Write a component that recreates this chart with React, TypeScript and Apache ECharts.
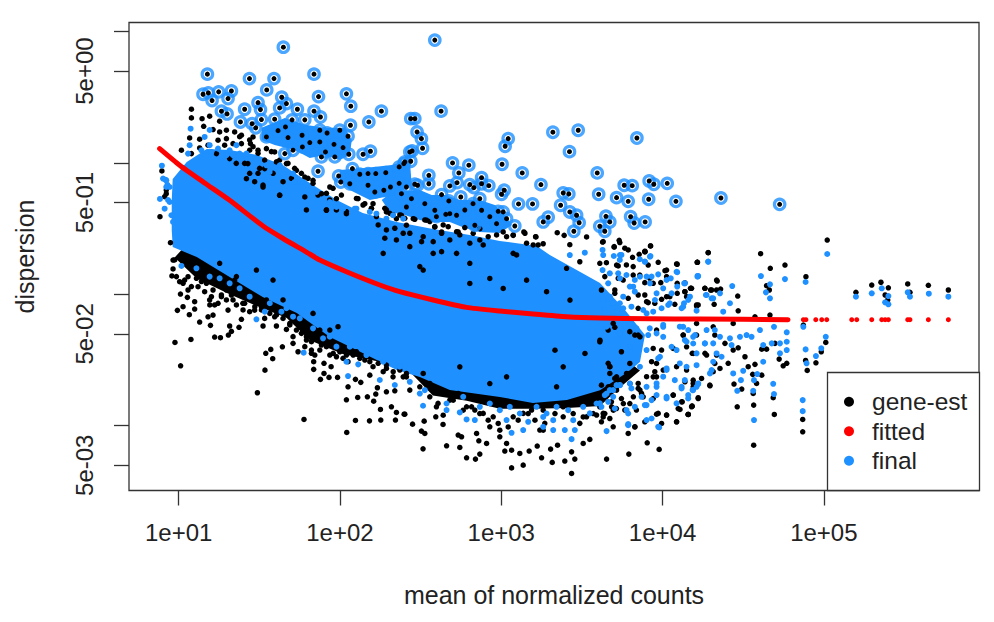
import React, { useEffect, useRef } from "react";
import * as echarts from "echarts";

// All values are log10(mean of normalized counts), log10(dispersion)
const xTicks = [1, 2, 3, 4, 5];
const xTickLabels = ["1e+01", "1e+02", "1e+03", "1e+04", "1e+05"];
const yTicks = [1, 0.699, 0, -0.301, -1, -1.301, -2, -2.301];
const yLabelTicks = [0.699, -0.301, -1.301, -2.301];
const yTickLabels = ["5e+00", "5e-01", "5e-02", "5e-03"];

// Envelopes of the regions where the points merge into a solid mass
const denseBody = [[.957,-.510],[.957,-.282],[.963,-.122],[1.050,.008],[1.174,.107],[1.316,.099],[1.484,.061],[1.645,-.015],[1.813,-.152],[1.980,-.282],[2.141,-.381],[2.352,-.449],[2.576,-.503],[2.805,-.549],[2.991,-.594],[3.220,-.632],[3.301,-.701],[3.612,-.914],[3.767,-1.120],[3.891,-1.310],[3.860,-1.515],[3.785,-1.592],[3.612,-1.730],[3.407,-1.804],[3.196,-1.827],[2.991,-1.781],[2.681,-1.728],[2.495,-1.629],[2.352,-1.576],[2.141,-1.447],[1.937,-1.325],[1.732,-1.142],[1.521,-1.020],[1.316,-.868],[1.112,-.716],[.963,-.640]];
const finalClusterA = [[2.259,-.282],[2.321,-.221],[2.495,-.206],[2.569,-.244],[2.650,-.244],[2.743,-.282],[2.867,-.282],[2.960,-.320],[3.022,-.396],[3.066,-.472],[2.991,-.533],[2.867,-.525],[2.774,-.495],[2.681,-.449],[2.557,-.449],[2.495,-.434],[2.402,-.396],[2.309,-.373]];
const finalClusterB = [[1.515,.267],[1.658,.343],[1.782,.290],[1.906,.267],[2.030,.267],[2.073,.175],[2.061,.061],[1.999,.023],[1.906,.061],[1.813,.038],[1.720,.099],[1.595,.137],[1.515,.175]];
const finalClusterC = [[1.999,-.053],[2.154,-.038],[2.321,-.015],[2.433,.023],[2.445,-.167],[2.340,-.244],[2.185,-.282],[2.061,-.206],[1.999,-.145]];
const geneBand = [[.975,-.72],[1.112,-.88],[1.316,-1.0],[1.459,-1.075],[1.670,-1.18],[1.813,-1.35],[2.017,-1.455],[2.290,-1.525],[2.433,-1.59],[2.576,-1.77],[2.786,-1.81],[2.991,-1.87],[3.196,-1.87],[3.407,-1.865],[3.612,-1.85],[3.736,-1.71],[3.860,-1.58],[3.612,-1.348],[2.371,-1.043],[1.130,-.510]];

const outliers = [[1.649,.881],[1.178,.676],[1.439,.642],[1.591,.642],[1.839,.676],[1.546,.556],[1.867,.505],[2.040,.526],[2.067,.432],[2.257,.394],[2.179,.312],[1.327,.548],[1.248,.541],[1.184,.533],[1.151,.523],[1.207,.475],[1.306,.490],[1.265,.394],[1.300,.373],[1.409,.409],[1.492,.459],[1.507,.406],[1.383,.312],[1.455,.299],[1.478,.267],[1.513,.330],[1.639,.500],[1.668,.452],[1.626,.419],[1.736,.409],[1.595,.333],[1.703,.328],[1.782,.328],[1.839,.394],[1.879,.350],[1.616,.246],[1.662,.274],[1.544,.198],[1.678,.193],[1.765,.211],[1.875,.249],[1.920,.228],[1.999,.249],[2.065,.287],[2.050,.203],[1.813,.155],[1.875,.160],[1.963,.142],[2.019,.117],[1.709,.097],[1.658,.071],[1.767,.122],[1.910,.084],[1.885,.046],[2.055,.066],[1.968,.046],[2.143,.066],[2.189,.089],[1.864,-.063],[2.077,-.043],[1.992,-.099],[2.005,-.145],[2.123,-.086],[2.174,-.081],[2.222,-.081],[2.284,-.074],[2.367,-.030],[2.402,.008],[2.433,.084],[2.061,-.158],[2.174,-.170],[2.216,-.221],[2.272,-.208],[2.313,-.183],[2.367,-.155],[2.412,-.183],[2.439,.337],
[2.588,.935],[2.627,.394],[2.464,.337],[2.478,.236],[2.505,.185],[2.512,.112],[2.447,.091],[2.439,.013],[2.396,-.005],[3.043,.185],[3.024,.127],[3.320,.234],[3.477,.249],[3.841,.190],[3.423,.086],[2.698,.000],[2.799,-.017],[2.737,-.076],[3.005,-.010],[3.130,-.076],[2.551,-.094],[2.551,-.158],[2.464,-.162],[2.481,-.170],[2.726,-.150],[2.681,-.175],[2.805,-.165],[2.830,-.188],[2.878,-.112],[2.878,-.158],[2.923,-.173],[3.246,-.165],[3.595,-.076],[3.604,-.238],[3.762,-.170],[3.812,-.173],[3.715,-.264],[3.787,-.292],[3.917,-.137],[3.946,-.162],[4.029,-.155],[3.914,-.276],[4.083,-.292],[3.384,-.228],[3.419,-.236],[3.368,-.322],[3.107,-.312],[3.194,-.312],[3.018,-.208],[3.002,-.238],[3.425,-.373],[3.467,-.398],[3.483,-.455],[3.291,-.413],[3.260,-.449],[3.450,-.520],[3.649,-.406],[3.673,-.449],[3.611,-.482],[3.642,-.520],[3.802,-.409],[3.824,-.457],[3.892,-.449],[3.084,-.480],[3.012,-.373],[2.981,-.368],[3.033,-.424],[2.971,-.462],[2.867,-.272],[2.825,-.310],[2.749,-.259],[2.675,-.289],[2.630,-.241],[2.681,-.386],[2.588,-.360],[2.443,-.272],[2.381,-.234],[2.526,-.310],[2.412,-.335],[2.878,-.360],[2.836,-.474],[2.723,-.398],[4.362,-.267],[4.726,-.315],[2.774,-.358],[2.656,-.391],[2.598,-.409],[2.929,-.409]];

const geneEst = [[.977,-1.366],[1.012,-1.544],[1.076,-1.343],[1.223,-1.325],[1.259,-1.330],[1.308,-1.310],[1.316,-1.241],[1.327,-1.282],[1.374,-1.251],[1.130,-1.211],[1.197,-1.236],[1.389,-1.190],[.992,-1.122],[1.027,-1.094],[1.066,-1.155],[1.099,-1.112],[1.099,-1.056],[1.054,-1.023],[1.011,-.998],[.958,-.860],[.965,-.807],[.949,-.607],[1.540,-1.449],[1.571,-1.419],[1.583,-1.490],[1.535,-1.577],[1.488,-1.749],[1.643,-1.399],[1.777,-1.952],[2.042,-2.051],[2.096,-1.960],[2.183,-1.963],[2.253,-1.957],[2.344,-1.957],[2.040,-1.803],[2.110,-1.785],[2.170,-1.780],[2.209,-1.813],[2.222,-1.759],[2.251,-1.876],[2.319,-1.856],[2.350,-1.899],[2.402,-1.912],[2.288,-1.742],[2.340,-1.734],[2.232,-1.711],[2.050,-1.704],[1.837,-1.571],[1.879,-1.647],[1.932,-1.632],[1.985,-1.632],[1.901,-1.602],[1.945,-1.551],[1.901,-1.525],[1.837,-1.513],[2.129,-1.670],[2.096,-1.647],[2.185,-1.615],
[.965,-.739],[1.006,-.904],[1.058,-.866],[1.058,-.967],[1.120,-.840],[1.120,-.942],[1.172,-.916],[1.172,-.840],[1.203,-1.018],[1.193,-1.081],[1.213,-1.158],[1.182,-1.171],[1.244,-1.068],[1.265,-1.005],[1.296,-.967],[1.306,-1.120],[1.337,-1.043],[1.347,-.891],[1.398,-1.068],[1.409,-1.005],[1.451,-1.043],[1.471,-1.120],[1.513,-1.094],[1.544,-1.043],[1.533,-1.183],[1.595,-1.171],[1.523,-1.241],[1.606,-1.241],[1.668,-1.267],[1.689,-1.221],[1.709,-1.373],[1.740,-1.437],[1.771,-1.272],[1.792,-1.348],[1.823,-1.424],[1.844,-1.462],[1.875,-1.272],[1.916,-1.335],[1.978,-1.475],[2.019,-1.424],[2.050,-1.513],[2.102,-1.437],[2.154,-1.500],[2.205,-1.551],[2.288,-1.564],[2.329,-1.628],[2.412,-1.628],
[.896,-.061],[.884,-.409],[.923,-.206],[.913,-.257],[.923,-.234],
[1.079,.409],[1.079,.343],[1.145,.337],[1.192,.356],[1.155,.279],[1.213,.254],[1.254,.318],[1.254,.236],[1.296,.249],[1.347,.236],[1.389,.211],[1.068,.190],[1.130,.181],[1.017,.097],[1.130,.114],[1.182,.135],[1.244,.173],[1.296,.185],[1.285,.135],[1.337,.147],[1.389,.147],[1.445,.147],[1.461,.198],[1.440,.097],[1.492,.097],[1.544,.109],[1.595,.084],[1.429,-.005],[1.533,-.043],[1.606,.008],[1.668,-.005],[1.730,-.056],[1.782,-.107],[1.833,-.132],[1.885,-.234],[1.937,-.183],[1.978,-.272],[2.040,-.386],[2.112,-.272],[2.154,-.310],[2.205,-.310],[2.288,-.373],[2.350,-.424],[2.412,-.474],[1.916,-.360],[1.782,-.259],[1.626,-.246],[1.523,-.183],[1.420,-.120],[1.316,.033],[1.234,.071],[1.079,.071],
[3.140,-.525],[3.215,-.563],[3.347,-.531],[3.390,-.551],[3.529,-.563],[3.628,-.602],[3.731,-.589],[3.700,-.640],[3.926,-.632],[3.891,-.672],[3.425,-.622],[3.260,-.615],[3.074,-.551],[3.012,-.525],[2.867,-.500],[2.733,-.525],[2.630,-.525],[2.537,-.436],[2.454,-.424],[2.381,-.398],[2.588,-.487],
[4.087,-.769],[4.217,-.756],[4.015,-.820],[3.911,-.777],[3.891,-.676],[3.715,-.777],[3.611,-.764],[3.487,-.752],[3.405,-.802],[3.818,-.853],[3.942,-.916],[4.139,-.980],[4.176,-.954],[4.025,-1.018],[3.901,-1.056],[4.221,-1.081],[3.860,-1.323],[3.963,-1.272],[3.694,-1.221],[3.611,-1.361],[3.663,-1.525],[3.798,-1.602],[3.942,-1.628],[4.087,-1.551],[4.190,-1.678],[4.066,-1.767],[3.973,-1.906],[4.025,-1.919],[4.087,-1.970],[4.159,-1.914],[4.184,-1.851],[3.880,-1.780],[3.715,-1.628],[3.611,-1.856],[3.684,-1.856],[3.829,-2.008],[3.787,-2.059],[3.905,-2.130],[3.979,-2.180],[3.791,-2.216],[3.653,-2.254],[3.436,-2.363],[3.136,-2.300],[3.064,-2.321],[3.316,-2.279],[3.394,-2.269],[3.456,-2.254],[3.250,-2.244],[2.785,-2.244],[2.840,-2.254],[2.867,-2.216],[2.515,-2.176],[2.661,-2.153],[2.743,-2.165],[2.450,-1.988],[2.522,-1.965],[2.505,-2.041],[2.526,-2.059],[2.639,-1.990],[2.594,-1.932],[2.398,-1.912],[2.733,-2.071],[2.754,-2.084],[2.861,-2.115],[2.909,-2.135],[3.022,-2.193],[3.064,-2.186],[3.115,-2.211],[3.173,-2.193],[3.223,-2.155],[3.306,-2.178],[3.349,-2.148],[3.436,-2.199],[3.508,-2.135],[3.549,-2.104],[2.557,-1.678],[2.608,-1.830],[2.681,-1.805],[2.733,-1.754],[2.785,-1.856],[2.836,-1.881],[2.888,-1.906],[2.950,-1.932],[2.929,-2.008],[2.847,-2.059],[2.991,-2.084],[3.033,-2.135],[3.074,-1.932],[3.136,-1.906],[3.188,-1.881],[3.239,-2.033],[3.270,-1.982],[3.343,-1.704],[3.384,-1.932],[3.487,-1.982],[3.529,-1.932],[3.591,-1.919],[3.632,-1.906],[3.673,-1.551],[3.777,-1.602],[3.849,-1.678],[4.004,-1.576],
[5.021,-.587],[4.283,-.683],[4.608,-.691],[4.215,-.756],[4.668,-.802],[4.759,-.777],[4.889,-.866],[4.339,-.899],[5.199,-.985],[5.297,-.929],[5.354,-.908],[5.400,-.950],[5.520,-.921],[5.648,-.931],[5.772,-.967],[5.534,-.985],[5.380,-1.005],[5.396,-1.043],[4.263,-.954],[4.304,-.967],[4.360,-.960],[4.180,-.954],[4.139,-.912],[4.466,-1.013],[4.645,-.934],[4.662,-.967],[4.211,-1.081],[4.320,-1.076],[4.469,-1.125],[4.149,-1.018],[4.873,-1.234],[5.012,-1.366],[4.984,-1.437],[4.951,-1.521],[4.887,-1.503],[4.897,-1.579],[4.869,-1.952],[4.869,-2.046],[4.565,-2.148],[4.693,-1.914],[4.565,-1.843],[4.463,-1.856],[4.686,-1.787],[4.562,-1.754],[4.294,-1.696],[4.221,-1.787],[4.182,-1.851],[4.159,-1.914],[4.108,-1.876],[4.122,-1.818],[4.443,-1.683],[4.583,-1.678],[4.491,-1.721],[4.615,-1.615],[4.559,-1.609],[4.770,-1.525],[4.748,-1.544],[4.723,-1.493],[4.615,-1.417],[4.645,-1.417],[4.697,-1.373],[4.469,-1.407],[4.531,-1.551],[4.573,-1.533],[4.511,-1.475],[4.438,-1.424],[4.356,-1.564],[4.407,-1.525],[4.314,-1.589],[4.242,-1.640],[4.139,-1.666],[4.190,-1.653],[4.184,-1.449],[4.263,-1.449],[4.335,-1.462],[4.387,-1.373],[4.314,-1.247],[4.211,-1.221],[4.438,-1.221],[4.573,-1.171],[4.666,-1.158],[4.149,-1.399],[4.149,-1.576],
[2.195,-.345],[2.226,-.408],[2.278,-.345],[2.309,-.383],[2.371,-.396],[2.402,-.421],[2.464,-.429],[2.526,-.434],[2.557,-.446],[2.588,-.485],[2.640,-.472],[2.671,-.485],[2.723,-.523],[2.743,-.548],[2.774,-.492],[2.826,-.535],[2.867,-.586],[2.919,-.561],[2.971,-.548],[3.033,-.561],[3.074,-.548],[3.147,-.535],[3.213,-.561],[2.805,-.611],[2.888,-.624],[2.681,-.586],[2.630,-.535],[2.516,-.561],[2.433,-.535],[2.392,-.535],[3.074,-.688],[3.157,-.611],[3.198,-.624],[3.229,-.624],[3.095,-.700],
[2.288,-.510],[2.278,-.573],[2.340,-.497],[2.237,-.472],[2.433,-.637],[2.506,-.599],[2.578,-.599],[2.578,-.688],[2.630,-.675],[2.723,-.688],[2.805,-.764],[2.495,-.789],[2.268,-.688],[2.350,-.586],
[1.626,.022],[1.678,-.003],[1.719,-.041],[1.761,-.079],[1.802,-.117],[1.833,-.155],[1.864,-.244],[1.916,-.231],[1.957,-.193],[2.009,-.244],[2.102,-.270],[2.143,-.320],[2.195,-.346],[2.288,-.358],[2.329,-.396],[1.936,-.282],[2.040,-.371],[1.792,-.358],[1.916,-.358],[1.978,-.358],[1.626,-.244],[1.523,-.168],[1.585,-.079],[1.471,-.143],[1.647,-.143],[1.699,-.117],[1.440,-.079],[1.502,-.041],[1.409,-.003],[1.357,-.003],[1.440,.175],[1.461,.124],[1.378,.200],[1.575,.086],[1.492,.073],[1.533,.022],[1.492,-.079],
[3.632,-.599],[3.700,-.637],[3.735,-.606],[3.766,-.649],[3.787,-.662],[3.814,-.718],[3.855,-.695],[3.890,-.675],[3.925,-.632],[3.652,-.759],[3.725,-.784],[3.776,-.776],[3.818,-.789],[3.973,-.756],[4.091,-.771],[4.215,-.756],[4.283,-.682],[4.025,-.815],[4.025,-.865],[4.091,-.916],[3.989,-.911],[3.890,-.911],[3.921,-.878],[3.725,-.878],[3.756,-.891],[3.859,-.853],[3.621,-.967],[3.704,-.967],[3.704,-.992],[3.787,-1.030],[3.849,-1.005],[3.890,-1.005],[3.911,-1.063],[3.952,-1.068],[3.994,-1.038],[4.045,-1.018],[4.091,-.992],[4.138,-.980],[4.173,-.954],[4.262,-.954],[4.298,-.967],[4.335,-.891],[4.076,-1.076],[4.211,-1.089],[3.849,-1.106],[4.335,-.967],[3.642,-.865],[3.704,-1.251],[3.797,-1.284],[3.663,-1.272],[3.828,-1.310],[4.128,-1.310],[4.211,-1.310],[4.324,-1.310],
[3.849,-1.310],[3.942,-1.412],[3.932,-1.513],[3.963,-1.526],[3.901,-1.627],[3.952,-1.589],[3.994,-1.424],[4.066,-1.412],[4.128,-1.310],[4.190,-1.450],[4.273,-1.462],[4.324,-1.526],[4.293,-1.691],[4.221,-1.793],[4.190,-1.704],[4.118,-1.818],[4.066,-1.767],[4.097,-1.869],[4.180,-1.856],[4.159,-1.914],[4.025,-1.919],[3.963,-1.912],[3.994,-1.983],[3.890,-1.970],[4.087,-1.970],[3.838,-1.881],[3.766,-1.881],[3.714,-1.869],[3.642,-1.907],[3.621,-1.970],[3.673,-1.945],[3.828,-2.008],[3.694,-2.008],[3.797,-1.831],[3.745,-1.793],[3.683,-1.818],[3.849,-1.716],[3.870,-1.754],[3.942,-1.793],[3.673,-1.602],[3.663,-1.704],[3.704,-1.640],[3.797,-1.526],[3.745,-1.437],[3.673,-1.551],[3.621,-1.691],
[2.516,-.815],[2.805,-.917],[2.929,-.879],[3.157,-.892],[3.012,-.955],[3.333,-1.425],[3.612,-1.349],[3.519,-1.450],[3.384,-1.552],[3.033,-1.628],[2.929,-1.679],[2.516,-1.602],[2.743,-1.552],[3.281,-.980],[3.426,-1.044],
[1.482,-.815],[1.585,-.891],[1.647,-1.043],[1.833,-1.145],[1.937,-1.272],[1.988,-1.246],[1.254,-.764],[1.358,-.865]];

const geneEstLowerEdge = [[.975,-.738],[.986,-.865],[1.037,-.891],[1.027,-.916],[1.079,-.941],[1.110,-.878],[1.141,-.903],[1.161,-.980],[1.213,-.967],[1.192,-1.043],[1.223,-1.081],[1.265,-1.018],[1.296,-1.043],[1.327,-1.005],[1.358,-1.081],[1.399,-1.119],[1.440,-1.132],[1.409,-1.068],[1.472,-1.094],[1.513,-1.119],[1.565,-1.145],[1.606,-1.157],[1.647,-1.183],[1.689,-1.233],[1.730,-1.272],[1.761,-1.297],[1.792,-1.322],[1.823,-1.360],[1.782,-1.398],[1.823,-1.449],[1.875,-1.424],[1.916,-1.398],[1.958,-1.449],[1.999,-1.437],[2.040,-1.462],[2.082,-1.462],[2.123,-1.487],[2.185,-1.513],[2.237,-1.525],[2.288,-1.538],[2.330,-1.589],[2.371,-1.576],[2.412,-1.602],[2.268,-1.589],[2.019,-1.487],[1.937,-1.462],[1.885,-1.386],[1.709,-1.322],
[2.392,-1.628],[2.433,-1.729],[2.495,-1.704],[2.557,-1.780],[2.598,-1.856],[2.640,-1.920],[2.702,-1.806],[2.764,-1.882],[2.816,-1.856],[2.867,-1.907],[2.919,-1.958],[2.981,-1.983],[3.043,-2.009],[3.105,-1.958],[3.167,-1.907],[3.209,-1.958],[3.260,-1.882],[3.333,-1.907],[3.384,-1.856],[3.446,-1.907],[3.508,-1.933],[3.570,-1.907],[3.632,-1.933],[3.695,-1.882],[3.757,-1.831],[3.715,-1.729],[3.798,-1.679],[3.819,-1.780],[3.860,-1.729],[3.963,-1.628],[3.260,-2.034],[2.991,-2.034]];

const finalEst = [[.896,-.021],[.884,-.274],[.919,-.129],[.930,-.167],[.934,-.282],[1.074,.261],[1.192,.251],[1.161,.198],[1.068,.135],[1.203,.084],[1.296,.059],[1.378,.071],[1.337,.059],[1.471,.008],[1.564,-.068],[1.719,-.145],[1.978,-.335],[2.102,-.348],[2.226,-.386],[2.329,-.398],[.923,-.132],[.944,-.183],[.965,-.449],[.955,-.398],
[4.139,-.916],[4.087,-.828],[4.221,-.861],[4.025,-.891],[3.922,-.916],[3.860,-.866],[3.736,-.701],[3.632,-.701],[3.518,-.683],[3.425,-.701],[3.891,-.752],[3.922,-.714],[3.818,-.942],[3.736,-.878],[3.953,-1.043],[4.056,-.992],[4.128,-1.094],[4.035,-1.081],[3.901,-1.145],[3.756,-1.018],[3.694,-1.068],[4.004,-1.247],[4.128,-1.247],[4.190,-1.323],[4.087,-1.424],[3.984,-1.475],[3.901,-1.424],[3.798,-1.399],[4.025,-1.576],[4.149,-1.551],[3.963,-1.704],[4.118,-1.704],[4.190,-1.729],[4.025,-1.792],[4.087,-1.830],[3.901,-1.843],[3.736,-1.691],[3.673,-1.729],[3.777,-1.881],[3.787,-1.988],[3.653,-2.041],[3.979,-2.013],[3.901,-1.957],[3.456,-2.033],[3.394,-2.033],[3.436,-2.102],[3.136,-2.033],[3.064,-2.054],[3.322,-2.033],[3.260,-2.008],[3.167,-1.970],[3.033,-1.957],[2.836,-1.957],[2.785,-1.952],[2.743,-1.899],[2.661,-1.881],[2.515,-1.848],[3.549,-1.906],[3.611,-1.830],[3.694,-1.780],[3.860,-1.551],
[5.021,-.693],[4.283,-.752],[4.217,-.866],[4.610,-.861],[4.759,-.884],[4.887,-.906],[5.199,-1.018],[5.297,-.992],[5.359,-.954],[5.400,-1.013],[5.380,-1.061],[5.400,-1.076],[5.520,-.985],[5.534,-1.018],[5.651,-.995],[5.772,-1.018],[4.432,-.937],[4.666,-.924],[4.666,-1.030],[4.641,-.985],[4.269,-1.005],[4.304,-1.030],[4.170,-1.018],[4.133,-1.068],[4.356,-.992],[4.418,-1.068],[4.376,-1.132],[4.873,-1.247],[4.691,-1.247],[4.604,-1.272],[4.770,-1.289],[5.012,-1.323],[4.984,-1.411],[4.951,-1.470],[4.887,-1.419],[4.893,-1.525],[4.770,-1.361],[4.770,-1.424],[4.728,-1.373],[4.728,-1.449],[4.677,-1.373],[4.624,-1.386],[4.624,-1.513],[4.552,-1.323],[4.521,-1.310],[4.480,-1.323],[4.418,-1.335],[4.428,-1.386],[4.356,-1.323],[4.314,-1.373],[4.263,-1.373],[4.201,-1.310],[4.149,-1.361],[4.211,-1.449],[4.314,-1.513],[4.366,-1.475],[4.500,-1.582],[4.438,-1.602],[4.587,-1.607],[4.567,-1.653],[4.486,-1.653],[4.686,-1.681],[4.691,-1.759],[4.463,-1.734],[4.562,-1.734],[4.567,-1.957],[4.869,-1.805],[4.869,-1.889],[4.294,-1.602],[4.221,-1.683],[4.186,-1.729],[4.159,-1.792],
[3.628,-.662],[3.698,-.708],[3.745,-.700],[3.735,-.738],[3.859,-.733],[3.925,-.708],[3.890,-.751],[4.283,-.751],[4.217,-.860],[4.091,-.832],[4.051,-.878],[3.973,-.848],[3.932,-.865],[3.901,-.865],[3.828,-.891],[3.673,-.840],[3.725,-.840],[3.776,-.853],[3.628,-.815],[3.663,-.916],[3.797,-.941],[3.828,-.980],[4.004,-.954],[3.963,-.992],[4.091,-.941],[4.134,-.916],[4.159,-1.043],[4.118,-1.106],[4.045,-1.068],[3.994,-1.106],[3.942,-1.132],[3.880,-1.119],[3.807,-1.094],[3.735,-1.068],[3.673,-1.018],[3.632,-1.043],[4.273,-1.005],[4.314,-1.030],[4.211,-1.124],[3.642,-1.119],[3.714,-1.132],[3.756,-1.106],[3.652,-1.246],[3.735,-1.297],[3.838,-1.259],[3.921,-1.259],[4.004,-1.233],[4.107,-1.246],[4.159,-1.272],[4.273,-1.272],[4.324,-1.272],[3.797,-1.221],[3.963,-1.297],
[3.911,-1.310],[4.004,-1.323],[4.056,-1.399],[4.138,-1.348],[4.190,-1.374],[4.262,-1.374],[4.335,-1.450],[4.107,-1.526],[4.025,-1.564],[3.973,-1.488],[4.211,-1.539],[4.304,-1.577],[4.211,-1.704],[4.159,-1.767],[4.118,-1.716],[4.025,-1.780],[3.963,-1.767],[3.932,-1.805],[3.890,-1.843],[3.870,-1.780],[3.807,-1.716],[3.735,-1.691],[3.694,-1.729],[3.642,-1.767],[3.663,-1.818],[3.704,-1.869],[3.787,-1.907],[3.828,-1.856],[3.621,-1.856],[3.932,-1.945],[3.973,-2.008],[3.787,-1.996],[4.076,-1.653],[4.138,-1.653],[4.221,-1.678],[4.004,-1.627],[3.963,-1.678],[3.901,-1.704],
[2.433,-1.666],[2.495,-1.755],[2.526,-1.729],[2.661,-1.831],[2.764,-1.780],[2.867,-1.856],[2.929,-1.831],[2.991,-1.882],[3.053,-1.856],[3.115,-1.907],[3.219,-1.856],[3.281,-1.907],[3.343,-1.856],[3.415,-1.882],[3.446,-1.958],[3.508,-1.856],[3.591,-1.831],[3.653,-1.755],[3.715,-1.691],[3.798,-1.679],[3.260,-1.933],[3.322,-1.958]];

const finalEdge = [[1.017,-.784],[1.254,-.878],[1.378,-.954],[1.482,-1.190],[1.534,-1.132],[1.637,-1.132],[1.709,-1.170],[1.775,-1.444],[1.895,-1.335],[1.978,-1.398],[2.040,-1.513],[2.113,-1.533],[2.050,-1.622],[2.247,-1.652],[2.340,-1.690],[1.110,-.802],[1.192,-.865],[1.316,-.916],[1.440,-1.018],[1.565,-1.068],[1.668,-1.106],[1.751,-1.183],[1.833,-1.259],[1.937,-1.322],[2.061,-1.398],[2.164,-1.462],[2.268,-1.513],[2.371,-1.551],
[1.058,.071],[1.141,.096],[1.192,.135],[1.244,.109],[1.316,.096],[1.358,.135],[1.420,.071],[1.482,.033],[1.544,-.018],[1.627,-.018],[1.709,-.081],[1.771,-.145],[1.854,-.221],[1.937,-.297],[2.019,-.348],[2.092,-.348],[2.185,-.373],[2.288,-.424],[2.392,-.424],[.903,-.119],[.923,-.183],[.944,-.297],[.913,-.348]];

const fittedCurve = [[.882,.109],[1.006,-.017],[1.161,-.152],[1.316,-.284],[1.523,-.480],[1.647,-.575],[1.792,-.678],[1.875,-.739],[2.040,-.828],[2.247,-.929],[2.371,-.980],[2.577,-1.043],[2.785,-1.099],[2.991,-1.127],[3.198,-1.150],[3.405,-1.171],[3.612,-1.181],[3.922,-1.186],[4.232,-1.188],[4.778,-1.193]];
const fittedDotsMean = [4.873,4.889,4.950,4.987,5.018,5.173,5.204,5.297,5.359,5.380,5.400,5.520,5.534,5.648,5.772];
const fittedPlateau = -1.193;

const BLUE = "#1e90ff";
const FONT = "'Liberation Sans', Arial, sans-serif";
const TEXT = "#222222";
const AXIS = "#333333";

export default function App() {
  const ref = useRef<HTMLDivElement>(null);
  useEffect(() => {
    const chart = echarts.init(ref.current!, undefined, { renderer: "svg" });
    const scatter = (name: string, data: number[][], size: number, color: string, z: number) => ({
      name, type: "scatter", data, symbolSize: size, z, silent: true,
      itemStyle: { color, opacity: 1 },
    });
    const mass = (name: string, data: number[][], color: string) => ({
      name, type: "custom", z: 2, silent: true, data,
      itemStyle: { color },
      encode: { x: 0, y: 1 },
      renderItem: (p: any, api: any) => p.dataIndex === 0
        ? { type: "polygon", shape: { points: data.map((d) => api.coord(d)) }, style: { fill: color } }
        : null,
    });
    chart.setOption({
      animation: false,
      backgroundColor: "#ffffff",
      textStyle: { fontFamily: FONT },
      grid: { left: 129, top: 22.5, right: 15, bottom: 131.5, show: true, borderColor: AXIS, borderWidth: 1.3, backgroundColor: "#fff", outerBoundsMode: "none" },
      xAxis: {
        type: "value", min: 0.692, max: 5.962,
        name: "mean of normalized counts", nameLocation: "middle", nameGap: 92,
        nameTextStyle: { fontFamily: FONT, fontSize: 25, color: TEXT },
        splitLine: { show: false }, axisLine: { show: false, onZero: false },
        axisTick: { show: true, length: 15, customValues: xTicks, lineStyle: { color: AXIS, width: 1.3 } },
        axisLabel: {
          customValues: xTicks, margin: 30, fontFamily: FONT, fontSize: 24, color: TEXT,
          formatter: (v: number) => xTickLabels[xTicks.indexOf(v)] ?? "",
        },
      },
      yAxis: {
        type: "value", min: -2.493, max: 1.069,
        name: "dispersion", nameLocation: "middle", nameGap: 92,
        nameTextStyle: { fontFamily: FONT, fontSize: 25, color: TEXT },
        splitLine: { show: false }, axisLine: { show: false, onZero: false },
        axisTick: { show: true, length: 15, customValues: yTicks, lineStyle: { color: AXIS, width: 1.3 } },
        axisLabel: {
          customValues: yLabelTicks, margin: 33, rotate: 90, fontFamily: FONT, fontSize: 24, color: TEXT,
          formatter: (v: number) => yTickLabels[yLabelTicks.indexOf(v)] ?? "",
        },
      },
      legend: {
        left: 844, top: 387, orient: "vertical", padding: 0, itemGap: 0,
        itemWidth: 36, itemHeight: 10, z: 100,
        textStyle: { fontFamily: FONT, fontSize: 24.5, color: TEXT, lineHeight: 29.5 },
        data: [
          { name: "gene-est", icon: "circle" },
          { name: "fitted", icon: "circle" },
          { name: "final", icon: "circle" },
        ],
        selectedMode: false,
      },
      graphic: [{
        type: "rect", z: 50,
        shape: { x: 827.5, y: 372.5, width: 152, height: 118 },
        style: { fill: "#fff", stroke: AXIS, lineWidth: 1.3 },
      }],
      series: [
        mass("gene-est", geneBand, "#000000"),
        mass("final", denseBody, BLUE),
        mass("final", finalClusterA, BLUE),
        mass("final", finalClusterB, BLUE),
        mass("final", finalClusterC, BLUE),
        scatter("gene-est", geneEst.concat(geneEstLowerEdge), 5.5, "#000000", 3),
        scatter("final", finalEst.concat(finalEdge), 6, BLUE, 4),
        {
          name: "final", type: "scatter", data: outliers, symbolSize: 10.5, z: 5, silent: true,
          itemStyle: { color: "rgba(0,0,0,0)", borderColor: BLUE, borderWidth: 3.2 },
        },
        scatter("gene-est", outliers, 5, "#000000", 6),
        {
          name: "fitted", type: "line", data: fittedCurve, z: 7, silent: true, symbol: "none", smooth: 0.2,
          itemStyle: { color: "#ff0000" },
          lineStyle: { color: "#ff0000", width: 5, cap: "round", join: "round" },
        },
        scatter("fitted", fittedDotsMean.map((m) => [m, fittedPlateau]), 5, "#ff0000", 7),
      ],
    });
    return () => chart.dispose();
  }, []);
  return <div ref={ref} style={{ position: "absolute", left: 0, top: 0, width: 994, height: 622 }} />;
}
